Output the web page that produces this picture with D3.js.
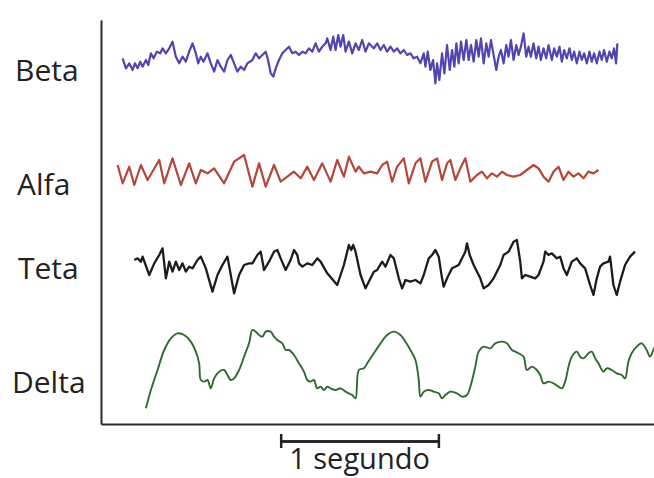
<!DOCTYPE html>
<html>
<head>
<meta charset="utf-8">
<script src="https://cdn.jsdelivr.net/npm/d3@7"></script>
<style>
  body { margin: 0; background: #fff; }
  svg { display: block; }
  text { font-family: "Open Sans", sans-serif; fill: #222; }
</style>
</head>
<body>
<svg width="654" height="478"></svg>
<script>
// channel names, top to bottom
var labels = ["Beta", "Alfa", "Teta", "Delta"];

// traces: [sample index, amplitude]; 474 samples = 1 second
var beta = [[65,5],[75,-25],[85,-10],[95,-30],[102,-10],[110,-25],[118,-5],[125,-20],[135,0],[142,-15],
  [150,20],[158,5],[168,25],[178,20],[185,35],[195,20],[205,35],[215,55],[225,10],[235,-10],
  [245,10],[255,-5],[265,25],[275,50],[285,20],[292,-10],[300,10],[308,-5],[320,20],[330,-10],
  [340,-35],[350,0],[360,-20],[370,-35],[380,0],[390,15],[400,-10],[410,-35],[420,-20],[430,-30],
  [440,-10],[455,0],[465,20],[475,5],[485,15],[495,25],[502,0],[510,-40],[518,-50],[525,-25],
  [535,0],[545,20],[555,30],[565,40],[575,20],[585,25],[595,15],[605,25],[615,20],[625,35],
  [635,25],[645,50],[655,25],[665,40],[675,50],[680,65],[690,30],[698,70],[705,30],[713,75],
  [720,40],[728,75],[735,25],[745,55],[755,20],[765,50],[775,30],[785,60],[795,25],[805,50],
  [815,40],[820,35],[830,50],[840,30],[850,45],[860,25],[870,40],[880,25],[890,35],[900,20],
  [910,30],[920,15],[930,20],[940,5],[950,10],[960,-10],[970,20],[975,-20],[982,25],[990,-30],
  [998,0],[1005,-70],[1010,-10],[1017,-60],[1025,20],[1032,-40],[1040,45],[1048,-30],[1055,30],[1062,-20],
  [1068,50],[1075,-10],[1082,55],[1090,0],[1098,60],[1105,0],[1112,45],[1120,-5],[1128,60],[1135,10],
  [1142,65],[1150,-10],[1158,50],[1165,10],[1172,60],[1180,15],[1188,-30],[1195,10],[1202,30],[1210,-10],
  [1218,45],[1225,10],[1232,60],[1240,0],[1248,45],[1255,15],[1262,40],[1270,80],[1278,10],[1285,40],
  [1292,10],[1300,50],[1308,5],[1315,40],[1322,0],[1330,35],[1338,5],[1345,45],[1355,0],[1362,35],
  [1370,10],[1378,40],[1385,-5],[1392,30],[1400,5],[1408,35],[1415,0],[1422,25],[1430,-10],[1438,25],
  [1445,0],[1452,20],[1460,-10],[1468,25],[1475,-5],[1482,20],[1490,-10],[1498,25],[1505,0],[1512,30],
  [1520,-5],[1528,25],[1535,5],[1542,35],[1548,-10],[1552,50]];

var alfa = [[50,21],[65,-34],[85,16],[100,-39],[120,21],[140,-24],[175,36],[190,-34],[215,41],[240,-39],
  [265,26],[285,-34],[300,6],[320,-4],[340,11],[370,-34],[400,31],[430,51],[455,-44],[475,26],
  [495,-44],[520,21],[540,-29],[560,-14],[580,1],[600,-19],[620,16],[640,-24],[665,26],[690,-29],
  [710,36],[730,-14],[745,46],[765,1],[775,16],[790,-4],[810,1],[830,-4],[845,21],[860,31],
  [875,-29],[890,16],[910,41],[925,-34],[945,26],[960,41],[975,-29],[995,31],[1010,41],[1025,-24],
  [1040,26],[1050,36],[1065,-24],[1080,11],[1095,41],[1110,-29],[1130,-9],[1145,1],[1160,-19],[1175,-4],
  [1190,-14],[1205,1],[1220,-9],[1240,-14],[1260,-9],[1280,6],[1300,21],[1315,11],[1330,-14],[1345,-29],
  [1360,1],[1375,16],[1390,-24],[1405,1],[1420,-14],[1435,-4],[1450,-19],[1465,1],[1480,-4],[1495,6]];

var teta = [[100,9],[110,14],[120,4],[125,19],[145,-36],[160,-1],[175,24],[185,44],[195,-46],[205,4],
  [215,-26],[225,4],[235,-21],[245,-1],[255,-26],[265,-11],[275,-16],[290,9],[300,19],[315,-16],
  [335,-86],[350,-36],[365,-6],[380,19],[400,-91],[415,-36],[430,-6],[445,-1],[455,-1],[470,24],
  [480,34],[490,-21],[505,4],[520,34],[530,39],[540,14],[555,-21],[570,9],[580,39],[590,24],
  [595,-1],[605,-11],[620,-1],[635,-6],[650,14],[660,4],[680,-31],[710,-66],[730,-6],[745,54],
  [752,39],[758,54],[765,34],[780,-36],[795,-76],[820,-26],[830,-21],[845,4],[855,-11],[870,24],
  [880,14],[895,-46],[905,-76],[915,-51],[930,-56],[945,-51],[960,-61],[970,-36],[985,14],[995,24],
  [1005,39],[1015,19],[1025,-46],[1030,-71],[1040,-46],[1055,-16],[1075,-6],[1095,34],[1100,59],[1108,24],
  [1120,-6],[1140,-46],[1150,-76],[1165,-66],[1180,-46],[1200,-6],[1210,24],[1225,34],[1240,64],[1250,69],
  [1260,4],[1265,-46],[1275,-36],[1290,-41],[1305,-46],[1315,-36],[1330,4],[1335,34],[1345,24],[1355,29],
  [1370,14],[1380,19],[1390,-16],[1400,-36],[1415,4],[1430,14],[1440,-1],[1455,-16],[1470,-66],[1480,-96],
  [1490,-46],[1500,-11],[1510,-1],[1525,4],[1530,19],[1540,-66],[1550,-96],[1560,-56],[1575,-6],[1590,19],
  [1605,34]];

var delta = [[135,-130],[150,-75],[170,-15],[190,45],[210,80],[230,95],[250,90],[270,70],[285,40],[295,5],
  [300,-45],[310,-50],[320,-45],[330,-70],[340,-40],[355,-20],[370,-15],[380,-30],[390,-45],[400,-40],
  [415,-15],[430,25],[445,65],[455,105],[465,100],[475,90],[485,85],[495,100],[510,100],[520,85],
  [530,75],[545,65],[555,45],[565,45],[580,30],[595,5],[610,-20],[620,-45],[630,-50],[640,-45],
  [650,-70],[660,-65],[670,-75],[680,-65],[690,-70],[705,-75],[720,-70],[735,-80],[745,-85],[755,-90],
  [765,-100],[775,-15],[790,-10],[800,5],[820,35],[840,65],[860,90],[880,100],[900,90],[915,70],
  [930,45],[945,15],[955,-45],[960,-95],[970,-80],[985,-75],[1000,-80],[1015,-85],[1025,-100],[1035,-90],
  [1050,-80],[1070,-85],[1085,-95],[1100,-90],[1110,-65],[1125,-5],[1135,40],[1150,55],[1170,50],[1185,65],
  [1205,70],[1220,65],[1235,45],[1245,40],[1255,35],[1270,25],[1280,-15],[1295,-5],[1310,-15],[1320,-30],
  [1330,-55],[1345,-50],[1360,-55],[1375,-65],[1385,-70],[1395,-50],[1405,-5],[1415,25],[1430,40],[1440,25],
  [1450,20],[1465,35],[1475,40],[1485,20],[1495,5],[1510,-20],[1520,-10],[1535,-15],[1550,-25],[1565,-30],
  [1575,-40],[1585,10],[1595,35],[1610,55],[1625,65],[1640,45],[1650,25],[1660,45],[1665,55]];

var sampleRate = 474;
var totalSamples = 1662;
var scaleBarStart = 540;   // sample where the 1 s bar begins
var scaleBarLabel = "1 segundo";

var width = 654, height = 478;
var margin = {left: 101, top: 20, right: 0, bottom: 54};

var svg = d3.select("svg");

var xScale = d3.scaleLinear().domain([0, totalSamples]).range([margin.left, width - margin.right]);

// each channel gets its own band; amplitude units are 1/3 px
var centers = [60, 172, 263, 365];
var labelBaselines = [81, 195, 279, 393];
var labelX = [15, 17, 18, 12];
var colors = ["#5145b0", "#b5463a", "#1c1c1c", "#2f6a30"];
var widths = [2.2, 2.2, 2.3, 1.9];
var series = [beta, alfa, teta, delta];

series.forEach(function(data, i) {
  var y = d3.scaleLinear().domain([-150, 150]).range([centers[i] + 50, centers[i] - 50]);
  var line = d3.line()
    .x(function(d) { return xScale(d[0]); })
    .y(function(d) { return y(d[1]); })
    .curve(i === 3 ? d3.curveCatmullRom : d3.curveLinear);

  svg.append("path")
    .attr("d", line(data))
    .attr("fill", "none")
    .attr("stroke", colors[i])
    .attr("stroke-width", widths[i])
    .attr("stroke-linejoin", "round");

  svg.append("text")
    .attr("x", labelX[i])
    .attr("y", labelBaselines[i])
    .style("font-size", "30px")
    .text(labels[i]);
});

// axes, no ticks
var yAxisScale = d3.scaleLinear().domain([0, 1]).range([height - margin.bottom, margin.top]);
svg.append("g")
  .attr("class", "axis")
  .attr("transform", "translate(" + margin.left + ",0)")
  .call(d3.axisLeft(yAxisScale).tickValues([]).tickSizeOuter(0));

svg.append("g")
  .attr("class", "axis")
  .attr("transform", "translate(0," + (height - margin.bottom) + ")")
  .call(d3.axisBottom(xScale).tickValues([]).tickSizeOuter(0));

// scale bar: 1 second
var timeScale = d3.scaleLinear().domain([0, 1])
  .range([xScale(scaleBarStart), xScale(scaleBarStart + sampleRate)]);
var barY = 441;
[d3.axisBottom, d3.axisTop].forEach(function(ax) {
  svg.append("g")
    .attr("class", "bar")
    .attr("transform", "translate(0," + barY + ")")
    .call(ax(timeScale).tickValues([0, 1]).tickFormat("").tickSize(7).tickSizeOuter(0));
});

svg.append("text")
  .attr("x", (timeScale(0) + timeScale(1)) / 2)
  .attr("y", 469)
  .style("text-anchor", "middle")
  .style("font-size", "29px")
  .text(scaleBarLabel);

svg.selectAll(".axis path").attr("stroke", "#2a2a2a").attr("stroke-width", 2);
svg.selectAll(".bar path, .bar line").attr("stroke", "#222").attr("stroke-width", 2.5);
</script>
</body>
</html>
